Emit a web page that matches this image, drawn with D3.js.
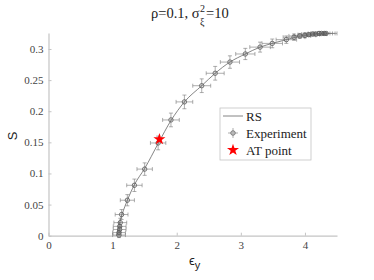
<!DOCTYPE html>
<html>
<head>
<meta charset="utf-8">
<script src="https://cdn.jsdelivr.net/npm/d3@7"></script>
<style>
  body { margin: 0; background: #fff; }
</style>
</head>
<body>
<div id="chart"></div>
<script>
// RS curve
const rsX = [1.06, 1.08, 1.1, 1.15, 1.23, 1.34, 1.5, 1.71, 1.91, 2.12, 2.39, 2.6, 2.83, 3.07, 3.3, 3.49, 3.71, 3.9, 4.1, 4.25, 4.35];
const rsY = [0, 0.008, 0.018, 0.035, 0.057, 0.082, 0.108, 0.148, 0.185, 0.215, 0.241, 0.261, 0.279, 0.292, 0.303, 0.309, 0.315, 0.32, 0.323, 0.325, 0.3255];

// Experiment points with error bars
const expX = [1.1, 1.1, 1.11, 1.11, 1.12, 1.14, 1.23, 1.34, 1.5, 1.71, 1.91, 2.12, 2.39, 2.6, 2.83, 3.07, 3.3, 3.49, 3.71, 3.83, 3.92, 4.0, 4.06, 4.12, 4.17, 4.22, 4.26, 4.3, 4.33];
const expY = [0.001, 0.005, 0.01, 0.015, 0.021, 0.034, 0.057, 0.081, 0.107, 0.149, 0.186, 0.215, 0.241, 0.261, 0.279, 0.292, 0.303, 0.309, 0.315, 0.319, 0.321, 0.322, 0.323, 0.324, 0.324, 0.325, 0.325, 0.325, 0.325];
const expXErr = [0.1, 0.1, 0.1, 0.1, 0.1, 0.1, 0.11, 0.12, 0.12, 0.12, 0.13, 0.13, 0.14, 0.14, 0.15, 0.15, 0.16, 0.16, 0.16, 0.17, 0.17, 0.17, 0.17, 0.17, 0.17, 0.17, 0.17, 0.17, 0.17];
const expYErr = [0.004, 0.004, 0.005, 0.006, 0.007, 0.008, 0.009, 0.01, 0.01, 0.011, 0.011, 0.011, 0.011, 0.011, 0.01, 0.009, 0.008, 0.007, 0.006, 0.005, 0.004, 0.004, 0.003, 0.003, 0.003, 0.003, 0.002, 0.002, 0.002];

// AT point
const atX = [1.73];
const atY = [0.155];

const xTicks = [0, 1, 2, 3, 4];
const yTicks = [0, 0.05, 0.1, 0.15, 0.2, 0.25, 0.3];

const serif = "'Liberation Serif', 'Times New Roman', serif";
const sans = "'Liberation Sans', Arial, sans-serif";

const width = 374, height = 280;
const svg = d3.select('#chart').append('svg')
  .attr('width', width)
  .attr('height', height);

const x = d3.scaleLinear().domain([0, 4.5]).range([48.5, 337]);
const y = d3.scaleLinear().domain([0, 0.3257]).range([235.7, 33]);

const axisColor = '#c4c4c4';
const labelColor = '#444';
const markColor = '#777';

// axes
const gx = svg.append('g').attr('transform', `translate(0,${y(0)})`)
  .call(d3.axisBottom(x).tickValues(xTicks).tickFormat(d3.format('d')).tickSizeInner(-3).tickSizeOuter(0).tickPadding(6));
const gy = svg.append('g').attr('transform', `translate(${x(0)},0)`)
  .call(d3.axisLeft(y).tickValues(yTicks).tickFormat(d => d === 0 ? '0' : String(d)).tickSizeInner(-3).tickSizeOuter(0).tickPadding(5));

[gx, gy].forEach(g => {
  g.select('.domain').attr('stroke', axisColor).attr('stroke-width', 1.2);
  g.selectAll('.tick line').attr('stroke', axisColor);
  g.selectAll('.tick text').attr('fill', labelColor)
    .style('font-size', '11px').style('font-family', serif);
});

// RS line
const line = d3.line().x((d, i) => x(rsX[i])).y((d, i) => y(rsY[i])).curve(d3.curveMonotoneX);
svg.append('path')
  .datum(rsX)
  .attr('d', line)
  .attr('fill', 'none')
  .attr('stroke', '#666')
  .attr('stroke-width', 0.8);

// error bars
const eb = svg.append('g').attr('stroke', markColor).attr('stroke-width', 0.6).attr('fill', 'none');
const cap = 2;
expX.forEach((v, i) => {
  const cx = x(v), cy = y(expY[i]);
  const x0 = x(v - expXErr[i]), x1 = x(v + expXErr[i]);
  const y0 = y(expY[i] - expYErr[i]), y1 = y(expY[i] + expYErr[i]);
  eb.append('line').attr('x1', x0).attr('x2', x1).attr('y1', cy).attr('y2', cy);
  eb.append('line').attr('x1', x0).attr('x2', x0).attr('y1', cy - cap).attr('y2', cy + cap);
  eb.append('line').attr('x1', x1).attr('x2', x1).attr('y1', cy - cap).attr('y2', cy + cap);
  eb.append('line').attr('x1', cx).attr('x2', cx).attr('y1', y0).attr('y2', y1);
  eb.append('line').attr('x1', cx - cap).attr('x2', cx + cap).attr('y1', y0).attr('y2', y0);
  eb.append('line').attr('x1', cx - cap).attr('x2', cx + cap).attr('y1', y1).attr('y2', y1);
});

svg.append('g').selectAll('circle')
  .data(expX)
  .enter().append('circle')
  .attr('cx', d => x(d))
  .attr('cy', (d, i) => y(expY[i]))
  .attr('r', 2.2)
  .attr('fill', 'none')
  .attr('stroke', '#555')
  .attr('stroke-width', 0.8);

// AT point star
const star = d3.symbol().type(d3.symbolStar);
svg.append('g').selectAll('path')
  .data(atX)
  .enter().append('path')
  .attr('d', star.size(45))
  .attr('transform', (d, i) => `translate(${x(d)},${y(atY[i])})`)
  .attr('fill', '#ff0000');

// title
const tx = 151;
const title = svg.append('text')
  .attr('x', tx).attr('y', 18)
  .attr('fill', '#222')
  .style('font-family', serif)
  .style('font-size', '14.5px');
title.append('tspan').text('ρ=0.1, σ');
const tw = title.node().getComputedTextLength();
svg.append('text').attr('x', tx + tw + 0.5).attr('y', 12).style('font-family', serif).style('font-size', '10px').attr('fill', '#222').text('2');
svg.append('text').attr('x', tx + tw + 0.5).attr('y', 25).style('font-family', serif).style('font-size', '10px').attr('fill', '#222').text('ξ');
svg.append('text').attr('x', tx + tw + 6.5).attr('y', 18).style('font-family', serif).style('font-size', '14.5px').attr('fill', '#222').text('=10');

// axis labels
svg.append('text')
  .attr('transform', 'translate(17,136) rotate(-90)')
  .attr('text-anchor', 'middle')
  .style('font-family', sans)
  .style('font-size', '13px')
  .attr('fill', '#222')
  .text('S');

const xl = svg.append('text')
  .attr('x', 189).attr('y', 265)
  .style('font-family', sans)
  .style('font-size', '13px')
  .attr('fill', '#222');
xl.append('tspan').text('ϵ');
xl.append('tspan').attr('dy', 4).style('font-size', '11px').text('y');

// legend
const lg = svg.append('g').attr('transform', 'translate(220,108)');
lg.append('rect').attr('width', 91).attr('height', 52)
  .attr('fill', '#fff').attr('stroke', '#c4c4c4').attr('stroke-width', 0.8);
const rows = ['RS', 'Experiment', 'AT point'];
rows.forEach((t, i) => {
  lg.append('text').attr('x', 26).attr('y', 12.5 + i * 17)
    .style('font-family', serif)
    .style('font-size', '13px').attr('fill', '#222').text(t);
});
lg.append('line').attr('x1', 3).attr('x2', 23).attr('y1', 8).attr('y2', 8)
  .attr('stroke', '#666').attr('stroke-width', 0.8);
const ly = 25;
lg.append('line').attr('x1', 8).attr('x2', 18).attr('y1', ly).attr('y2', ly).attr('stroke', markColor).attr('stroke-width', 0.6);
lg.append('line').attr('x1', 13).attr('x2', 13).attr('y1', ly - 5).attr('y2', ly + 5).attr('stroke', markColor).attr('stroke-width', 0.6);
lg.append('circle').attr('cx', 13).attr('cy', ly).attr('r', 2.2).attr('fill', 'none').attr('stroke', '#555').attr('stroke-width', 0.8);
lg.append('path').attr('d', star.size(45)).attr('transform', 'translate(13,42)').attr('fill', '#ff0000');
</script>
</body>
</html>
